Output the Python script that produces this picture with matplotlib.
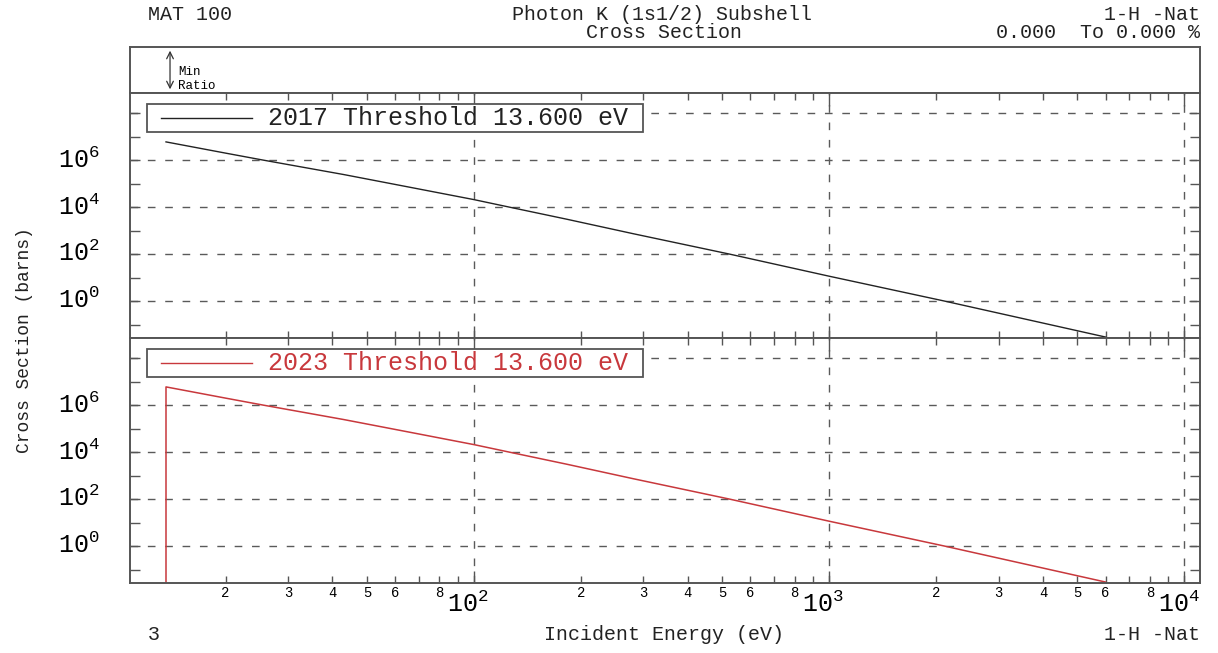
import matplotlib
matplotlib.use("Agg")
import matplotlib.pyplot as plt
import numpy as np
from matplotlib.patches import Rectangle
from matplotlib.ticker import FixedLocator, FixedFormatter, NullFormatter
from matplotlib.transforms import ScaledTranslation

plt.rcParams["font.family"] = ["Liberation Mono", "DejaVu Sans Mono"]
plt.rcParams["mathtext.default"] = "regular"

# photon K-shell cross section of H (eV, barns)
energy_2017 = [13.6, 20, 25.6, 43, 69, 100, 126, 182, 281, 525, 1000, 2115, 6000]
xs_2017 = [6.0e6, 2.0e6, 1.0e6, 2.45e5, 6.2e4, 2.1e4, 1.0e4, 3.1e3, 7.4e2,
           1.0e2, 11.5, 1.0, 0.0295]
# 2023 evaluation: same values, plus a zero-ish point at threshold
energy_2023 = [13.6] + energy_2017
xs_2023 = [1e-4] + xs_2017

x_major = [1e2, 1e3, 1e4]
x_major_labels = ["$10^{2}$", "$10^{3}$", "$10^{4}$"]
y_major_exp = [0, 2, 4, 6, 8]
y_major_labels = ["$10^{0}$", "$10^{2}$", "$10^{4}$", "$10^{6}$", ""]

FW, FH = 1218, 653
XLIM = (10.77, 11060)
YLIM = (10 ** -1.57, 10 ** 8.86)
EDGE = "#555555"
GRID = "#5a5a5a"
RED = "#c8383c"


def fx(px):
    return px / FW


def fy(py):
    return 1 - py / FH


def style_panel(ax, show_xlabels):
    ax.set_xscale("log")
    ax.set_yscale("log")
    ax.set_xlim(*XLIM)
    ax.set_ylim(*YLIM)
    for s in ax.spines.values():
        s.set_color(EDGE)
        s.set_linewidth(1.4)
    ax.xaxis.set_major_locator(FixedLocator(x_major))
    minors = [m * 10 ** d for d in range(1, 4) for m in range(2, 10)]
    ax.xaxis.set_minor_locator(FixedLocator(minors))
    ax.yaxis.set_major_locator(FixedLocator([10.0 ** e for e in y_major_exp]))
    ax.yaxis.set_minor_locator(FixedLocator([10.0 ** e for e in (-1, 1, 3, 5, 7)]))
    ax.yaxis.set_major_formatter(FixedFormatter(y_major_labels))
    ax.yaxis.set_minor_formatter(NullFormatter())
    if show_xlabels:
        ax.xaxis.set_major_formatter(FixedFormatter(x_major_labels))
        minor_lbl = [str(m) if m in (2, 3, 4, 5, 6, 8) else ""
                     for d in range(1, 4) for m in range(2, 10)]
        ax.xaxis.set_minor_formatter(FixedFormatter(minor_lbl))
    else:
        ax.xaxis.set_major_formatter(NullFormatter())
        ax.xaxis.set_minor_formatter(NullFormatter())
    ax.tick_params(which="both", direction="in", top=True, right=True,
                   color=EDGE, width=1.0)
    ax.tick_params(axis="x", which="major", length=9, labelsize=18, pad=3)
    ax.tick_params(axis="x", which="minor", length=5, labelsize=10, pad=2.5)
    ax.tick_params(axis="y", which="both", length=7, labelsize=18, pad=52)
    for lbl in ax.get_yticklabels():
        lbl.set_horizontalalignment("left")
        lbl.set_transform(lbl.get_transform()
                          + ScaledTranslation(0, 3 / 100, ax.figure.dpi_scale_trans))
    ax.grid(True, which="major", ls=(0, (5.5, 7)), color=GRID, lw=1.0)


def legend_box(ax, text, color):
    ax.add_patch(Rectangle((0.0159, 0.841), 0.464, 0.114, transform=ax.transAxes,
                           facecolor="white", ec=EDGE, lw=1.3, zorder=5))
    ax.plot([0.029, 0.114], [0.898, 0.898], transform=ax.transAxes,
            color=color, lw=1.0, zorder=6)
    ax.text(0.129, 0.898, text, transform=ax.transAxes, color=color,
            fontsize=18, va="center", ha="left", zorder=6)


fig = plt.figure(figsize=(FW / 100, FH / 100), dpi=100)

left, width = fx(130), fx(1200) - fx(130)
ax0 = fig.add_axes([left, fy(93), width, fy(47) - fy(93)])
ax1 = fig.add_axes([left, fy(338), width, fy(93) - fy(338)])
ax2 = fig.add_axes([left, fy(583), width, fy(338) - fy(583)])

# Min Ratio strip
ax0.set_xticks([])
ax0.set_yticks([])
for s in ax0.spines.values():
    s.set_color(EDGE)
    s.set_linewidth(1.4)
ax0.annotate("", xy=(0.0374, 0.98), xytext=(0.0374, 0.02),
             xycoords="axes fraction",
             arrowprops=dict(arrowstyle="<->", color="#333333", lw=0.9,
                             mutation_scale=12))
ax0.text(0.045, 0.45, "Min", transform=ax0.transAxes, fontsize=9, va="center")
ax0.text(0.045, 0.16, "Ratio", transform=ax0.transAxes, fontsize=9, va="center")

style_panel(ax1, False)
style_panel(ax2, True)

# shift the decade labels so "10" sits left of the tick, as in the original
for lbl in ax2.get_xticklabels():
    lbl.set_transform(lbl.get_transform()
                      + ScaledTranslation(-6 / 100, -4 / 100, fig.dpi_scale_trans))

ax1.plot(energy_2017, xs_2017, color="#222222", lw=1.0)
ax2.plot(energy_2023, xs_2023, color=RED, lw=1.1)
legend_box(ax1, f"2017 Threshold {energy_2017[0]:.3f} eV", "#222222")
legend_box(ax2, f"2023 Threshold {energy_2023[1]:.3f} eV", RED)

# header / footer annotations
hdr = dict(fontsize=14.4, color="#222222", va="center")
fig.text(fx(148), fy(14), "MAT 100", ha="left", **hdr)
fig.text(fx(662), fy(14), "Photon K (1s1/2) Subshell", ha="center", **hdr)
fig.text(fx(664), fy(33), "Cross Section", ha="center", **hdr)
fig.text(fx(1200), fy(14), "1-H -Nat", ha="right", **hdr)
fig.text(fx(1200), fy(33), "0.000  To 0.000 %", ha="right", **hdr)
fig.text(fx(148), fy(635), "3", ha="left", **hdr)
fig.text(fx(664), fy(635), "Incident Energy (eV)", ha="center", **hdr)
fig.text(fx(1200), fy(635), "1-H -Nat", ha="right", **hdr)
fig.text(fx(25), fy(340), "Cross Section (barns)", rotation=90, ha="center",
         va="center", fontsize=13, color="#222222")

fig.savefig("out.png", dpi=100)
